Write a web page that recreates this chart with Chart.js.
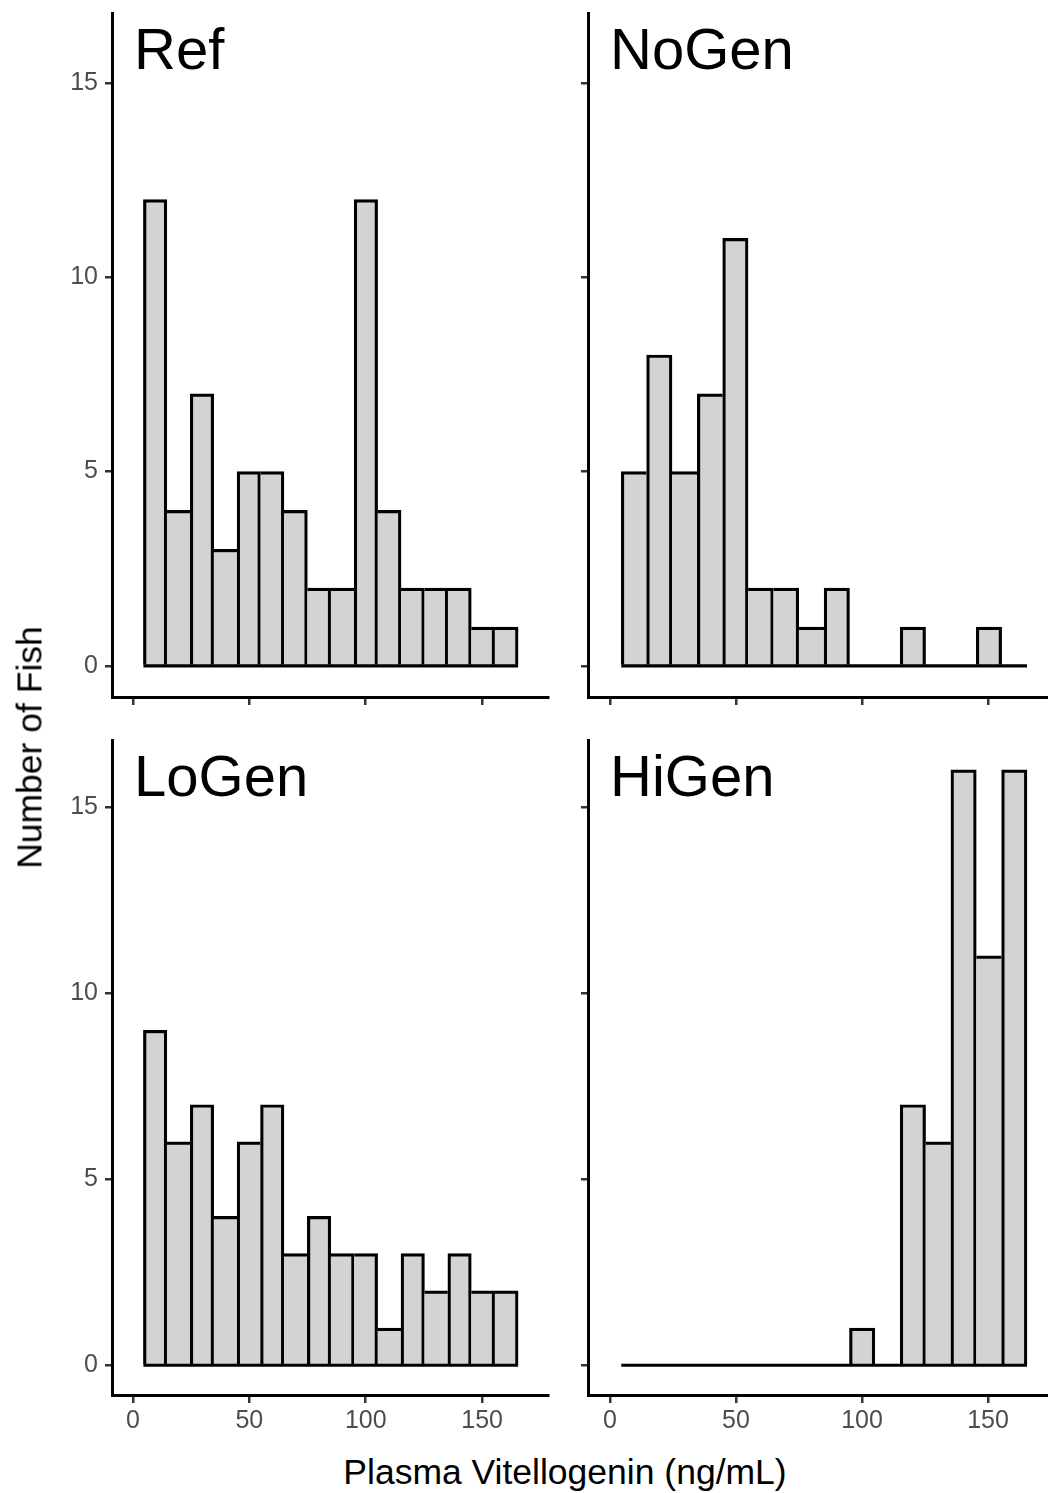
<!DOCTYPE html>
<html><head><meta charset="utf-8">
<script src="https://cdn.jsdelivr.net/npm/chart.js@4.4.1/dist/chart.umd.min.js"></script>
<style>
html,body{margin:0;padding:0;background:#fff;overflow:hidden;width:1048px;height:1493px;position:relative;}
canvas{position:absolute;}
.t{position:absolute;font-family:"Liberation Sans",Arial,sans-serif;font-size:35.5px;line-height:35px;color:#000;white-space:nowrap;text-align:center;}
</style></head><body>
<canvas id="c0" width="560" height="710" style="left:0;top:0"></canvas>
<canvas id="c1" width="488" height="710" style="left:560px;top:0"></canvas>
<canvas id="c2" width="560" height="725" style="left:0;top:720px"></canvas>
<canvas id="c3" width="488" height="725" style="left:560px;top:720px"></canvas>
<div class="t" style="left:0;top:1455px;width:1130px;">Plasma Vitellogenin (ng/mL)</div>
<div class="t" style="left:-170px;top:730px;width:400px;height:35px;transform:rotate(-90deg);">Number of Fish</div>
<script>
// ---- data ----
const panelNames = ['Ref', 'NoGen', 'LoGen', 'HiGen'];
const binStart = 4.5;
const binWidth = 10.06;
const refCounts   = [12, 4, 7, 3, 5, 5, 4, 2, 2, 12, 4, 2, 2, 2, 1, 1];
const noGenCounts = [5, 8, 5, 7, 11, 2, 2, 1, 2, 0, 0, 1, 0, 0, 1, 0];
const loGenCounts = [9, 6, 7, 4, 6, 7, 3, 4, 3, 3, 1, 3, 2, 3, 2, 2];
const hiGenCounts = [0, 0, 0, 0, 0, 0, 0, 0, 0, 1, 0, 7, 6, 16, 11, 16];
const xTicks = [0, 50, 100, 150];
const yTicks = [0, 5, 10, 15];

const FONT = '"Liberation Sans", Arial, sans-serif';
const BW = 3.2;

const panelTitle = {
  id: 'panelTitle',
  afterDraw(chart, args, opts) {
    const {ctx, chartArea} = chart;
    ctx.save();
    ctx.font = '58px ' + FONT;
    ctx.fillStyle = '#000';
    ctx.textAlign = 'left';
    ctx.textBaseline = 'alphabetic';
    ctx.fillText(opts.text, chartArea.left + 22, chartArea.top + 56);
    ctx.restore();
  }
};

function makeChart(id, name, counts, cfg) {
  const nb = counts.length;
  const barData = counts.map((c, i) => ({x: binStart + binWidth * (i + 0.5), y: c}));
  const baseData = [{x: binStart, y: 0}, {x: binStart + binWidth * nb, y: 0}];
  const bwFn = (ctx) => {
    const i = ctx.dataIndex;
    const h = counts[i];
    const prev = i > 0 ? counts[i - 1] : 0;
    const next = i < nb - 1 ? counts[i + 1] : 0;
    return {top: BW, bottom: 0, left: h > prev ? BW : 0, right: h >= next ? BW : 0};
  };
  return new Chart(document.getElementById(id), {
    data: {
      datasets: [
        {type: 'bar', data: barData, backgroundColor: '#D3D3D3', borderColor: '#000',
         borderWidth: bwFn, borderSkipped: false, barPercentage: 1, categoryPercentage: 1, order: 1},
        {type: 'line', data: baseData, borderColor: '#000', borderWidth: BW, pointRadius: 0,
         borderCapStyle: 'butt', order: 0, tension: 0}
      ]
    },
    options: {
      responsive: false, animation: false, devicePixelRatio: 1,
      layout: {padding: {top: cfg.padTop, right: cfg.padRight, left: 0, bottom: 0}},
      plugins: {legend: {display: false}, tooltip: {enabled: false}, panelTitle: {text: name}},
      scales: {
        x: {
          type: 'linear', min: cfg.xMin, max: cfg.xMax, position: 'bottom', offset: false,
          afterBuildTicks: s => { s.ticks = xTicks.map(v => ({value: v})); },
          afterFit: s => { s.height = cfg.xAxisH; s.paddingLeft = 0; s.paddingRight = 0; s.paddingTop = 0; s.paddingBottom = 0; },
          grid: {display: true, offset: false, drawOnChartArea: false, drawTicks: true, tickLength: 8, color: '#333333', lineWidth: 2.5},
          border: {display: true, color: '#000', width: 3},
          ticks: {callback: v => cfg.showX ? String(v) : '', color: '#4D4D4D',
                  font: {family: FONT, size: 25}, padding: 3, maxRotation: 0, autoSkip: false}
        },
        y: {
          type: 'linear', min: -0.8, max: 16.8, position: 'left', offset: false,
          afterBuildTicks: s => { s.ticks = yTicks.map(v => ({value: v})); },
          afterFit: s => { s.width = cfg.yAxisW; s.paddingLeft = 0; s.paddingRight = 0; s.paddingTop = 0; s.paddingBottom = 0; },
          grid: {display: true, offset: false, drawOnChartArea: false, drawTicks: true, tickLength: 7, color: '#333333', lineWidth: 2.5},
          border: {display: true, color: '#000', width: 3},
          ticks: {callback: v => cfg.showY ? String(v) : '', color: '#4D4D4D',
                  font: {family: FONT, size: 25}, padding: 7, autoSkip: false}
        }
      }
    },
    plugins: [panelTitle]
  });
}

makeChart('c0', panelNames[0], refCounts,   {padTop: 13, padRight: 12, yAxisW: 112, xAxisH: 13, xMin: -9.0, xMax: 178.3, showX: false, showY: true});
makeChart('c1', panelNames[1], noGenCounts, {padTop: 13, padRight: 0,  yAxisW: 28,  xAxisH: 13, xMin: -8.7, xMax: 173.8, showX: false, showY: false});
makeChart('c2', panelNames[2], loGenCounts, {padTop: 20, padRight: 12, yAxisW: 112, xAxisH: 50, xMin: -9.0, xMax: 178.3, showX: true,  showY: true});
makeChart('c3', panelNames[3], hiGenCounts, {padTop: 20, padRight: 0,  yAxisW: 28,  xAxisH: 50, xMin: -8.7, xMax: 173.8, showX: true,  showY: false});
</script>
</body></html>
